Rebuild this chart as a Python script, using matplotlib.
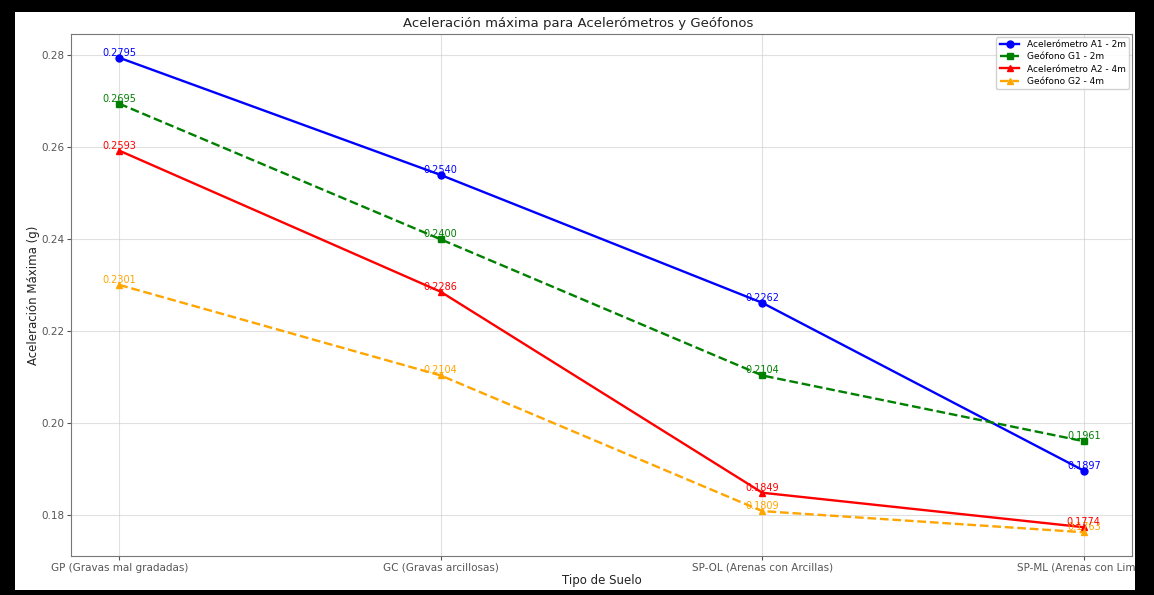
import matplotlib.pyplot as plt
from matplotlib.patches import Rectangle

# datos
suelos = ['GP (Gravas mal gradadas)', 'GC (Gravas arcillosas)',
          'SP-OL (Arenas con Arcillas)', 'SP-ML (Arenas con Limos)']
acel_a1 = [0.2795, 0.2540, 0.2262, 0.1897]
geo_g1 = [0.2695, 0.2400, 0.2104, 0.1961]
acel_a2 = [0.2593, 0.2286, 0.1849, 0.1774]
geo_g2 = [0.2301, 0.2104, 0.1809, 0.1763]

series = [
    (acel_a1, 'Acelerómetro A1 - 2m', 'blue', '-', 'o', 4),
    (geo_g1, 'Geófono G1 - 2m', 'green', '--', 's', 4),
    (acel_a2, 'Acelerómetro A2 - 4m', 'red', '-', '^', 5),
    (geo_g2, 'Geófono G2 - 4m', 'orange', '--', '^', 3),
]

W, H = 1154, 595
fig = plt.figure(figsize=(W / 100, H / 100), dpi=100)
fig.patch.set_facecolor('white')

ax = fig.add_axes([71 / W, 1 - 556 / H, (1132 - 71) / W, (556 - 34) / H])

x = list(range(len(suelos)))
for vals, label, color, ls, mk, z in series:
    ax.plot(x, vals, linestyle=ls, marker=mk, color=color, label=label,
            linewidth=1.7, markersize=5)
    for xi, v in zip(x, vals):
        ax.text(xi, v, f'{v:.4f}', color=color, fontsize=7,
                ha='center', va='bottom', zorder=z)

ax.set_xticks(x)
ax.set_xticklabels(suelos, fontsize=7.5, color='#333333')
ax.tick_params(axis='y', labelsize=7.5, labelcolor='#333333')
ax.tick_params(colors='#555555', length=3, pad=2)
ax.set_yticks([0.18, 0.20, 0.22, 0.24, 0.26, 0.28])
ax.set_title('Aceleración máxima para Acelerómetros y Geófonos',
             fontsize=9.5, x=0.478, pad=5, color='#222222')
ax.set_xlabel('Tipo de Suelo', fontsize=8.5, labelpad=1, color='#222222')
ax.set_ylabel('Aceleración Máxima (g)', fontsize=8.5, labelpad=1,
              color='#222222')
ax.grid(True, color='#cccccc', alpha=0.6, linewidth=0.8)
for s in ax.spines.values():
    s.set_color('#777777')
ax.legend(loc='upper right', fontsize=6.5, framealpha=0.9, handlelength=2.2,
          labelspacing=0.35, borderaxespad=0.3, borderpad=0.4)

# marco negro de la captura
for rx, ry, rw, rh in [(0, 0, 15, H), (1135, 0, W - 1135, H),
                       (0, 0, W, 5), (0, H - 12, W, 12)]:
    fig.patches.append(Rectangle((rx / W, ry / H), rw / W, rh / H,
                                 transform=fig.transFigure, facecolor='black',
                                 edgecolor='none', zorder=10))

fig.savefig('out.png', dpi=100, facecolor=fig.get_facecolor())
